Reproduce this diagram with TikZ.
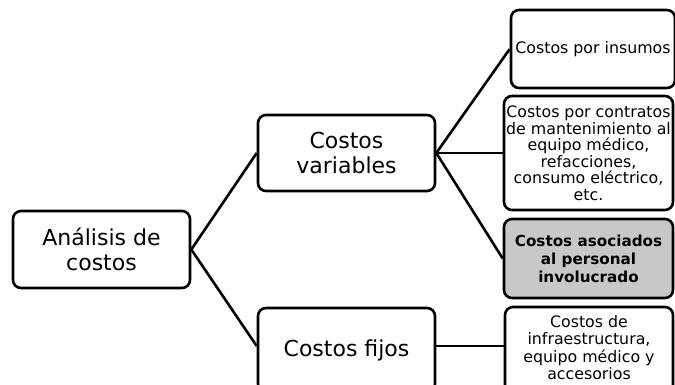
\documentclass[tikz,border=0pt]{standalone}
\usepackage{fontspec}
\setmainfont{DejaVu Sans}
\definecolor{boxgray}{RGB}{200,200,200}
\begin{document}
\begin{tikzpicture}[x=1pt,y=-1pt,
  box/.style={draw=black, line width=2.6pt, rounded corners=8pt, fill=white,
    inner sep=0pt, align=center},
  big/.style={font=\fontsize{22}{25}\selectfont},
  small/.style={font=\fontsize{15.8}{16.5}\selectfont},
  link/.style={draw=black, line width=2.6pt}
]
\useasboundingbox (0,0) rectangle (675,384);

% level 0
\node[box, big, minimum width=177pt, minimum height=77pt] (root) at (101.5,249.5)
  {Análisis de\\costos};

% level 1
\node[box, big, minimum width=177pt, minimum height=76pt] (var) at (346.5,153)
  {Costos\\variables};
\node[box, big, minimum width=177pt, minimum height=84pt] (fix) at (346.5,350)
  {\raisebox{4pt}{Costos fijos}};

% level 2
\node[box, small, minimum width=164pt, minimum height=78pt] (ins) at (593,49)
  {Costos por insumos};
\node[box, small, minimum width=169pt, minimum height=114pt] (mant) at (588.5,153)
  {Costos por contratos\\de mantenimiento al\\equipo médico,\\refacciones,\\consumo eléctrico,\\etc.};
\node[box, fill=boxgray, font=\fontsize{15.2}{18}\selectfont\bfseries,
  minimum width=169pt, minimum height=79pt] (pers) at (588.5,258.5)
  {Costos asociados\\al personal\\involucrado};
\node[box, font=\fontsize{15.8}{17}\selectfont,
  minimum width=168pt, minimum height=86pt] (infra) at (589,350)
  {\raisebox{3pt}{\begin{tabular}{@{}c@{}}Costos de\\infraestructura,\\equipo médico y\\accesorios\end{tabular}}};

% connectors
\draw[link] (root.east) -- (var.west);
\draw[link] (root.east) -- ([yshift=4pt]fix.west);
\draw[link] (var.east) -- (ins.west);
\draw[link] (var.east) -- (mant.west);
\draw[link] (var.east) -- (pers.west);
\draw[link] ([yshift=4pt]fix.east) -- ([yshift=4pt]infra.west);
\end{tikzpicture}
\end{document}
